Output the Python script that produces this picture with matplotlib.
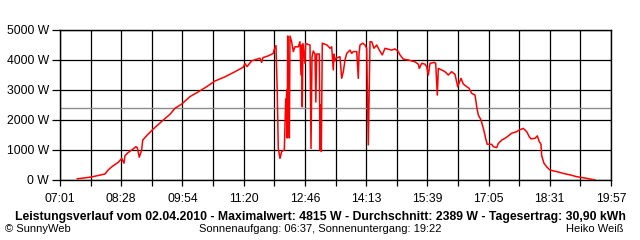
import matplotlib
matplotlib.use("Agg")
import matplotlib.pyplot as plt
import numpy as np

# time in minutes since midnight, power in W
t_min = [445.4, 465.1, 476.3, 484.4, 489.0, 496.1, 503.1, 507.9, 511.1, 512.5,
         517.2, 522.0, 528.0, 529.8, 532.7, 536.0, 537.5, 543.9, 552.4, 566.5,
         575.9, 582.9, 592.4, 604.1, 615.8, 627.6, 639.3, 653.4, 667.4, 679.1,
         681.5, 684.4, 690.9, 702.7, 705.0, 706.9, 714.4, 721.4, 722.4, 725.2,
         727.0, 728.4, 730.8, 733.2, 736.9, 738.9, 739.6, 740.3, 741.0, 741.7,
         742.5, 744.0, 744.9, 747.3, 749.6, 751.9, 756.6, 759.0, 760.4, 761.4,
         762.2, 763.2, 766.0, 767.0, 773.1, 774.5, 775.9, 777.7, 780.1, 781.3,
         782.5, 786.2, 787.2, 788.2, 789.0, 790.4, 797.0, 801.3, 803.6, 805.9,
         806.9, 808.3, 809.7, 815.3, 817.7, 820.0, 822.4, 824.8, 829.4, 831.8,
         834.1, 838.9, 841.1, 842.1, 843.5, 847.3, 850.5, 852.9, 855.2, 857.6,
         860.0, 863.2, 867.0, 870.7, 874.9, 878.7, 888.1, 892.8, 897.4, 899.8,
         904.5, 911.5, 921.0, 925.6, 927.0, 930.4, 935.0, 937.4, 939.7, 942.1,
         948.1, 950.1, 952.4, 953.8, 958.5, 963.2, 967.8, 972.6, 977.3, 981.1,
         985.7, 989.0, 993.8, 997.0, 1000.8, 1005.5, 1007.9, 1010.1, 1013.9, 1017.2,
         1019.5, 1021.0, 1022.8, 1029.0, 1031.3, 1036.0, 1038.3, 1043.1, 1047.7, 1052.4,
         1057.2, 1064.2, 1067.9, 1073.5, 1078.3, 1082.0, 1084.3, 1090.0, 1093.2, 1096.0,
         1098.4, 1099.4, 1102.6, 1106.4, 1111.1, 1120.5, 1129.8, 1139.3, 1148.7, 1162.7,
         1174.5]
power_w = [40, 100, 160, 200, 340, 480, 590, 720, 560, 810,
           920, 1000, 1110, 1080, 760, 1000, 1330, 1500, 1700, 2000,
           2190, 2390, 2530, 2780, 2940, 3110, 3300, 3440, 3610, 3760,
           3880, 3780, 3970, 4060, 3920, 4080, 4140, 4220, 4330, 4480,
           2890, 1050, 720, 950, 1000, 2700, 2400, 3000, 1400, 4800,
           2300, 1400, 4800, 4600, 4280, 4440, 4440, 4610, 3500, 4500,
           2440, 4550, 3890, 4550, 4500, 1050, 4100, 4300, 4200, 2600,
           4200, 4200, 1000, 2500, 950, 4560, 4500, 4390, 4440, 3670,
           4200, 3970, 4060, 4110, 3390, 3610, 4000, 4220, 4330, 4220,
           4280, 4280, 3390, 4200, 4500, 4560, 4500, 4390, 1170, 4610,
           4610, 4390, 4500, 4330, 4170, 4390, 4330, 4370, 4280, 4170,
           4030, 4000, 3940, 3860, 3720, 3890, 3860, 3780, 3500, 3890,
           3920, 3890, 2830, 3720, 3670, 3610, 3500, 3610, 3520, 3110,
           3390, 3200, 3110, 3060, 2890, 2830, 2440, 2170, 2000, 1720,
           1500, 1330, 1190, 1190, 1110, 1080, 1220, 1330, 1390, 1470,
           1560, 1610, 1670, 1720, 1610, 1440, 1370, 1390, 1470, 1280,
           1190, 810, 560, 440, 330, 280, 220, 170, 110, 56,
           0]

average_w = 2389
x_start, x_end = 421, 1197  # 07:01 .. 19:57
x_tick_labels = ["07:01", "08:28", "09:54", "11:20", "12:46", "14:13",
                 "15:39", "17:05", "18:31", "19:57"]
y_ticks = [0, 1000, 2000, 3000, 4000, 5000]
y_tick_labels = ["0 W", "1000 W", "2000 W", "3000 W", "4000 W", "5000 W"]

title = ("Leistungsverlauf vom 02.04.2010 - Maximalwert: 4815 W - "
         "Durchschnitt: 2389 W - Tagesertrag: 30,90 kWh")
footer_left = "\u00a9 SunnyWeb"
footer_mid = "Sonnenaufgang: 06:37, Sonnenuntergang: 19:22"
footer_right = "Heiko Wei\u00df"

plt.rcParams['font.family'] = ['Liberation Sans', 'DejaVu Sans']

fig = plt.figure(figsize=(6.4, 2.4), dpi=100)
ax = fig.add_axes([60/640, 60/240, 551/640, 150/240])

ax.set_xlim(x_start, x_end)
ax.set_ylim(0, 5000)

n_int = 18
all_ticks = np.linspace(x_start, x_end, n_int + 1)
ax.set_xticks(all_ticks)
labels = []
for i in range(n_int + 1):
    labels.append(x_tick_labels[i // 2] if i % 2 == 0 else "")
ax.set_xticklabels(labels)
ax.set_yticks(y_ticks)
ax.set_yticklabels(y_tick_labels)

ax.grid(True, color='black', linewidth=0.9)
ax.set_axisbelow(True)
for s in ax.spines.values():
    s.set_color('black')
    s.set_linewidth(1.0)

ax.tick_params(axis='x', length=4, width=0.9, pad=5, labelsize=8.7)
ax.tick_params(axis='y', length=6, width=0.9, pad=2, labelsize=8.7)

ax.axhline(average_w, color='#8c8c8c', linewidth=1.0, zorder=1.5)
ax.plot(t_min, power_w, color='#ff0000', linewidth=1.1, zorder=3)

fig.text(0.5, (240-217)/240, title, ha='center', va='center',
         fontsize=8.8, fontweight='bold')
fig.text(5/640, (240-229)/240, footer_left, ha='left', va='center', fontsize=8.0)
fig.text(320/640, (240-229)/240, footer_mid, ha='center', va='center', fontsize=8.0)
fig.text(624/640, (240-229)/240, footer_right, ha='right', va='center', fontsize=8.0)

fig.savefig("out.png", dpi=100, facecolor='white')
